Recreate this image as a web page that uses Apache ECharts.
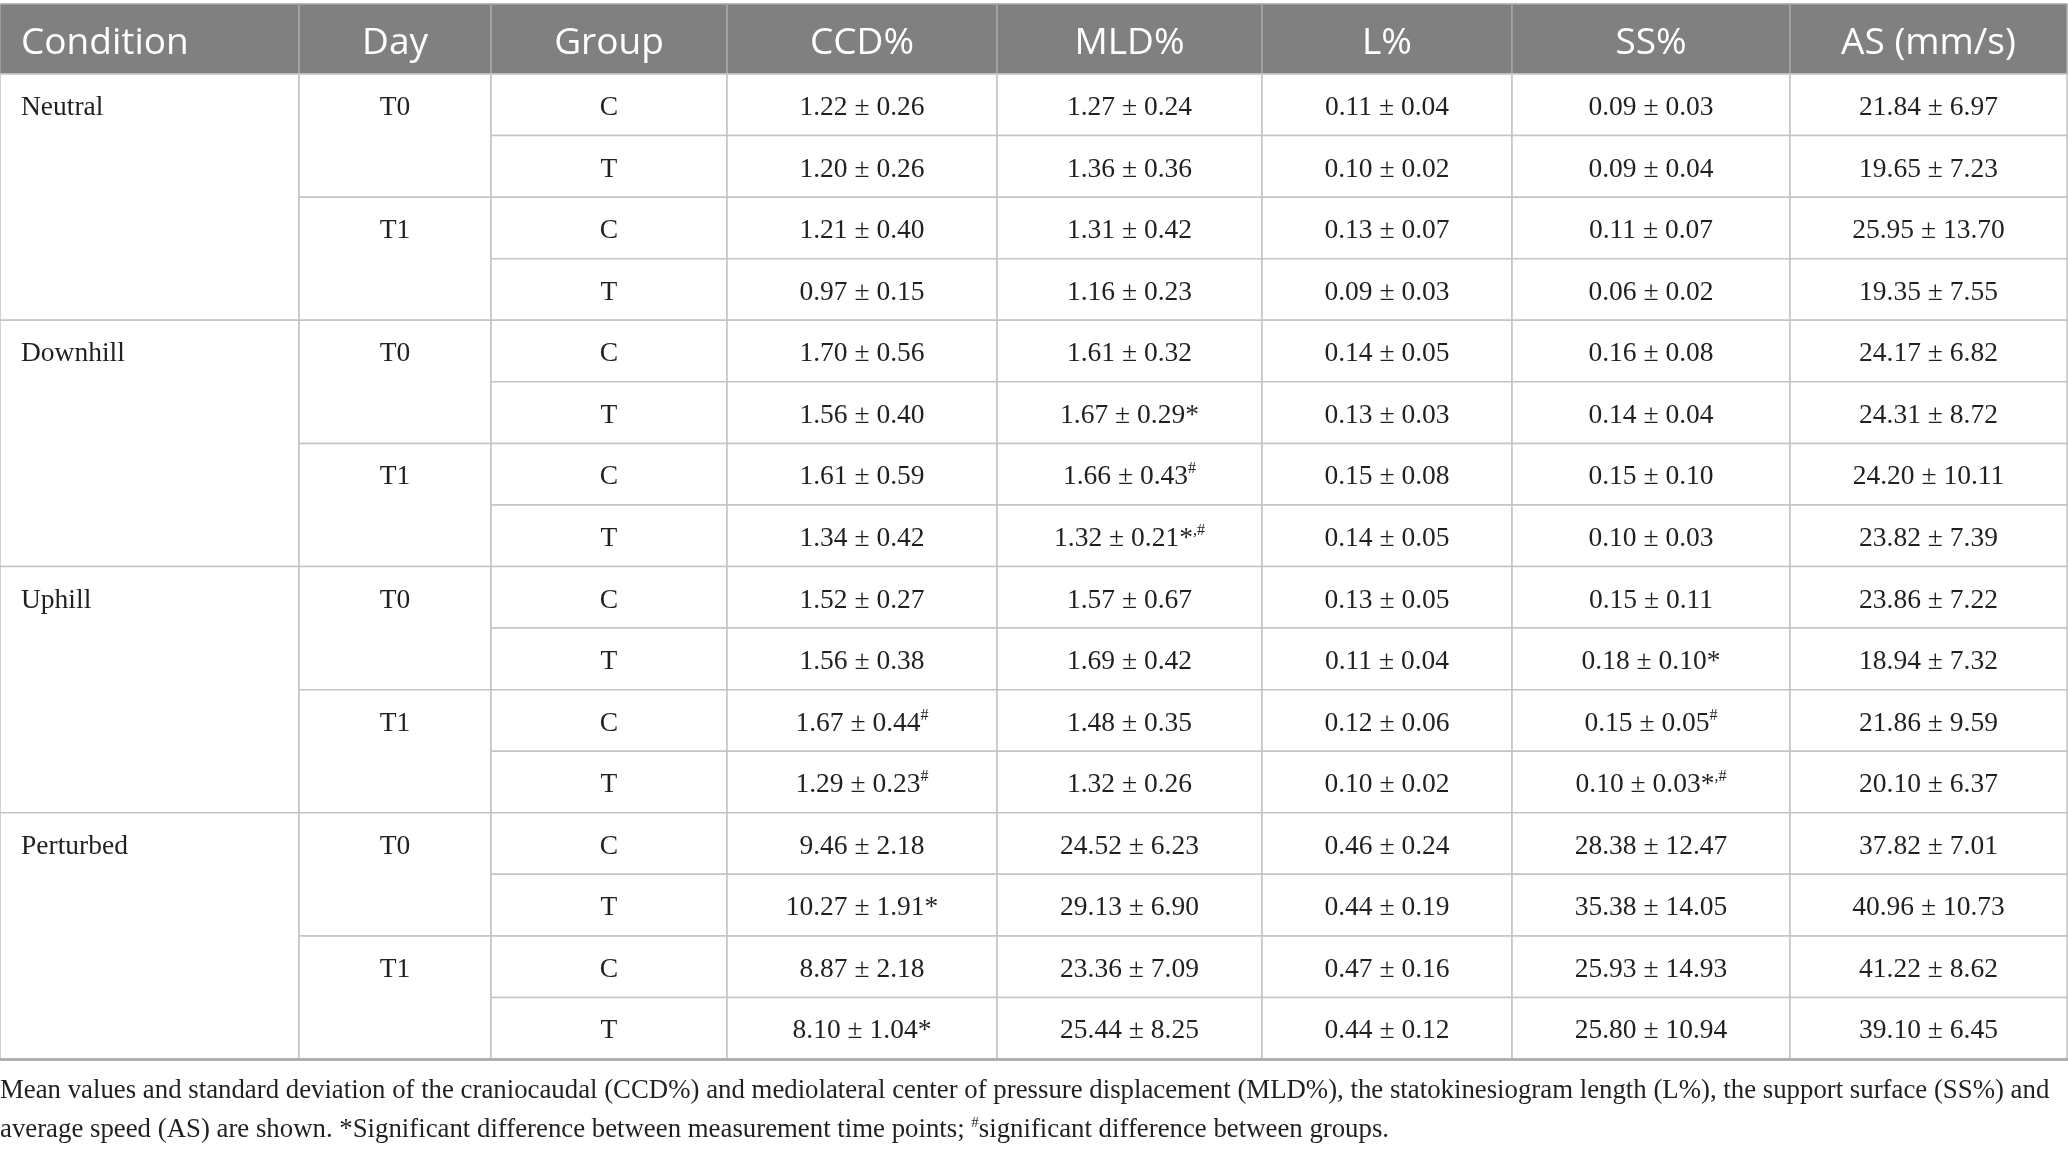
<!DOCTYPE html>
<html>
<head>
<meta charset="utf-8">
<script src="https://cdn.jsdelivr.net/npm/echarts@6/dist/echarts.min.js"></script>
<style>
  html, body { margin: 0; padding: 0; background: #fff; }
  #main { width: 2068px; height: 1151px; }
</style>
</head>
<body>
<div id="main"></div>
<script>
// table content
var headers = ['Condition', 'Day', 'Group', 'CCD%', 'MLD%', 'L%', 'SS%', 'AS (mm/s)'];
var conditions = ['Neutral', 'Downhill', 'Uphill', 'Perturbed'];
var days = ['T0', 'T1'];
var groups = ['C', 'T'];

// [mean, sd, note]  note: '*' time points, '#' groups
var ccd = [
    [1.22, 0.26], [1.20, 0.26], [1.21, 0.40], [0.97, 0.15],
    [1.70, 0.56], [1.56, 0.40], [1.61, 0.59], [1.34, 0.42],
    [1.52, 0.27], [1.56, 0.38], [1.67, 0.44, '#'], [1.29, 0.23, '#'],
    [9.46, 2.18], [10.27, 1.91, '*'], [8.87, 2.18], [8.10, 1.04, '*']
];
var mld = [
    [1.27, 0.24], [1.36, 0.36], [1.31, 0.42], [1.16, 0.23],
    [1.61, 0.32], [1.67, 0.29, '*'], [1.66, 0.43, '#'], [1.32, 0.21, '*,#'],
    [1.57, 0.67], [1.69, 0.42], [1.48, 0.35], [1.32, 0.26],
    [24.52, 6.23], [29.13, 6.90], [23.36, 7.09], [25.44, 8.25]
];
var lPct = [
    [0.11, 0.04], [0.10, 0.02], [0.13, 0.07], [0.09, 0.03],
    [0.14, 0.05], [0.13, 0.03], [0.15, 0.08], [0.14, 0.05],
    [0.13, 0.05], [0.11, 0.04], [0.12, 0.06], [0.10, 0.02],
    [0.46, 0.24], [0.44, 0.19], [0.47, 0.16], [0.44, 0.12]
];
var ssPct = [
    [0.09, 0.03], [0.09, 0.04], [0.11, 0.07], [0.06, 0.02],
    [0.16, 0.08], [0.14, 0.04], [0.15, 0.10], [0.10, 0.03],
    [0.15, 0.11], [0.18, 0.10, '*'], [0.15, 0.05, '#'], [0.10, 0.03, '*,#'],
    [28.38, 12.47], [35.38, 14.05], [25.93, 14.93], [25.80, 10.94]
];
var avgSpeed = [
    [21.84, 6.97], [19.65, 7.23], [25.95, 13.70], [19.35, 7.55],
    [24.17, 6.82], [24.31, 8.72], [24.20, 10.11], [23.82, 7.39],
    [23.86, 7.22], [18.94, 7.32], [21.86, 9.59], [20.10, 6.37],
    [37.82, 7.01], [40.96, 10.73], [41.22, 8.62], [39.10, 6.45]
];
var captionLines = [
    'Mean values and standard deviation of the craniocaudal (CCD%) and mediolateral center of pressure displacement (MLD%), the statokinesiogram length (L%), the support surface (SS%) and',
    'average speed (AS) are shown. *Significant difference between measurement time points; {s|#}significant difference between groups.'
];

// layout
var colEdges = [0, 299, 491, 727, 997, 1262, 1512, 1790, 2067];
var tableTop = 74, tableBottom = 1059, headerH = 70;
var nRows = 16;
var rowH = (tableBottom - tableTop) / nRows;
var headY = -headerH / rowH;

var serif = '"Liberation Serif", "Times New Roman", serif';
var sans = '"Open Sans", "Noto Sans", sans-serif';

function fmtVal(v) {
    var s = '{b|' + v[0].toFixed(2) + ' \u00b1 ' + v[1].toFixed(2);
    var note = v[2] || '';
    if (note.charAt(0) === '*') {
        s += '*';
        note = note.slice(1);
    }
    s += '}';
    if (note) s += '{s|' + note + '}';
    return s;
}

// build cells: col, y0, y1, text, kind
var cells = [];
headers.forEach(function (h, i) {
    cells.push({ col: i, y0: headY, y1: 0, text: h, kind: 'head' });
});
var valueCols = [ccd, mld, lPct, ssPct, avgSpeed];
conditions.forEach(function (cond, ci) {
    var base = ci * 4;
    cells.push({ col: 0, y0: base, y1: base + 4, text: cond, kind: 'cond' });
    days.forEach(function (d, di) {
        var r = base + di * 2;
        cells.push({ col: 1, y0: r, y1: r + 2, text: d, kind: 'day' });
        groups.forEach(function (g, gi) {
            var row = r + gi;
            cells.push({ col: 2, y0: row, y1: row + 1, text: g, kind: 'grp' });
            valueCols.forEach(function (arr, vi) {
                cells.push({ col: 3 + vi, y0: row, y1: row + 1, text: fmtVal(arr[row]), kind: 'val' });
            });
        });
    });
});

var bodyRich = {
    b: { fontSize: 27.5, fontFamily: serif, fill: '#231f20', lineHeight: 32 },
    s: { fontSize: 16, fontFamily: serif, fill: '#231f20', lineHeight: 16, verticalAlign: 'top' }
};

function renderItem(params, api) {
    var c = cells[params.dataIndex];
    var p0 = api.coord([colEdges[c.col], c.y0]);
    var p1 = api.coord([colEdges[c.col + 1], c.y1]);
    var w = p1[0] - p0[0], h = p1[1] - p0[1];
    var isHead = c.kind === 'head';
    var rect = {
        type: 'rect',
        shape: { x: p0[0], y: p0[1], width: w, height: h },
        style: {
            fill: isHead ? '#808080' : '#fff',
            stroke: isHead ? '#a8a8a8' : '#c4c4c4',
            lineWidth: 1.5
        }
    };
    var leftAlign = c.col === 0;
    var ty = (c.kind === 'cond' || c.kind === 'day') ? p0[1] + rowH / 2 : p0[1] + h / 2;
    var txt = {
        type: 'text',
        x: leftAlign ? p0[0] + 21 : p0[0] + w / 2,
        y: ty + (isHead ? 4 : 3),
        style: isHead ? {
            text: c.text,
            font: '37px ' + sans,
            fill: '#fff',
            align: leftAlign ? 'left' : 'center',
            verticalAlign: 'middle'
        } : {
            text: c.kind === 'val' ? c.text : '{b|' + c.text + '}',
            rich: bodyRich,
            align: leftAlign ? 'left' : 'center',
            verticalAlign: 'middle'
        },
        z2: 10
    };
    return { type: 'group', children: [rect, txt] };
}

var myChart = echarts.init(document.getElementById('main'), null, { renderer: 'canvas' });

var option = {
    backgroundColor: '#fff',
    animation: false,
    grid: { left: 0, right: 1, top: tableTop, bottom: 1151 - tableBottom },
    xAxis: { type: 'value', min: 0, max: colEdges[colEdges.length - 1], show: false },
    yAxis: { type: 'value', min: 0, max: nRows, inverse: true, show: false },
    series: [{
        type: 'custom',
        renderItem: renderItem,
        clip: false,
        data: cells.map(function (c) { return [c.col, c.y0, c.y1]; })
    }],
    graphic: [
        {
            type: 'rect', left: 0, top: tableBottom - 1,
            shape: { width: 2068, height: 3 },
            style: { fill: '#b0b0b0' }, z: 100
        },
        {
            type: 'text', left: 0, top: 1092 - 15,
            style: { text: captionLines[0], font: '26.8px ' + serif, fill: '#231f20' }
        },
        {
            type: 'text', left: 0, top: 1131 - 15,
            style: {
                text: captionLines[1],
                font: '26.8px ' + serif,
                fill: '#231f20',
                rich: { s: { fontSize: 15, fontFamily: serif, fill: '#231f20', verticalAlign: 'top', lineHeight: 15 } }
            }
        }
    ]
};

myChart.setOption(option);
</script>
</body>
</html>
